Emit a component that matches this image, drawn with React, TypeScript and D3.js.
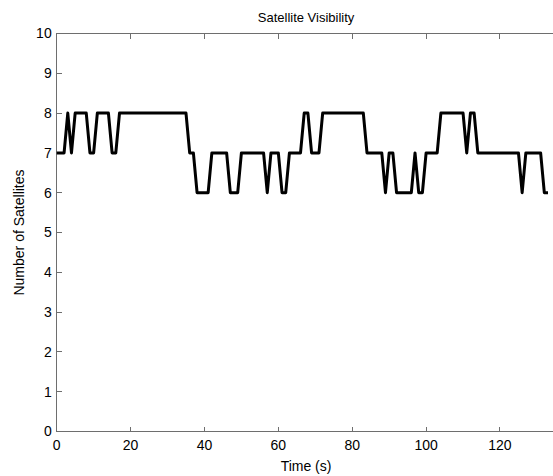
import React from "react";
import * as d3 from "d3";

// Number of visible satellites sampled once per second (t = 0 .. 133 s)
const satellites: number[] = [
  7, 7, 7, 8, 7, 8, 8, 8, 8, 7, 7, 8, 8, 8, 8, 7, 7,
  8, 8, 8, 8, 8, 8, 8, 8, 8, 8, 8, 8, 8, 8, 8, 8, 8, 8, 8,
  7, 7, 6, 6, 6, 6, 7, 7, 7, 7, 7, 6, 6, 6,
  7, 7, 7, 7, 7, 7, 7, 6, 7, 7, 7, 6, 6, 7, 7, 7, 7, 8, 8, 7, 7, 7,
  8, 8, 8, 8, 8, 8, 8, 8, 8, 8, 8, 8,
  7, 7, 7, 7, 7, 6, 7, 7, 6, 6, 6, 6, 6, 7, 6, 6, 7, 7, 7, 7,
  8, 8, 8, 8, 8, 8, 8, 7, 8, 8,
  7, 7, 7, 7, 7, 7, 7, 7, 7, 7, 7, 7, 6, 7, 7, 7, 7, 7, 6, 6,
];
const xTicks: number[] = [0, 20, 40, 60, 80, 100, 120];
const yTicks: number[] = [0, 1, 2, 3, 4, 5, 6, 7, 8, 9, 10];
const xDomain: [number, number] = [0, 135];
const yDomain: [number, number] = [0, 10];

const W = 553;
const H = 476;
const left = 56.7;
const right = 555.4;
const top = 33.5;
const bottom = 431.5;
const font = "Liberation Sans, Arial, Helvetica, sans-serif";
const axisColor = "#6e6e6e";

export default function App() {
  const x = d3.scaleLinear().domain(xDomain).range([left, right]);
  const y = d3.scaleLinear().domain(yDomain).range([bottom, top]);
  const line = d3
    .line<number>()
    .x((_, i) => x(i))
    .y((d) => y(d));
  const tickLen = 5;

  return (
    <svg
      width={W}
      height={H}
      style={{ position: "absolute", left: 0, top: 0, background: "#fff" }}
      fontFamily={font}
    >
      <rect x={0} y={0} width={W} height={H} fill="#fff" />
      {/* plot frame */}
      <rect
        x={left}
        y={top}
        width={right - left}
        height={bottom - top}
        fill="#fff"
        stroke={axisColor}
        strokeWidth={1}
        shapeRendering="crispEdges"
      />
      {/* x ticks bottom & top */}
      {xTicks.map((t) => (
        <g key={"x" + t}>
          <line
            x1={x(t)}
            x2={x(t)}
            y1={bottom}
            y2={bottom - tickLen}
            stroke={axisColor}
            shapeRendering="crispEdges"
          />
          <line
            x1={x(t)}
            x2={x(t)}
            y1={top}
            y2={top + tickLen}
            stroke={axisColor}
            shapeRendering="crispEdges"
          />
          <text
            x={x(t)}
            y={bottom + 18.5}
            textAnchor="middle"
            fontSize={14}
            fill="#000"
          >
            {t}
          </text>
        </g>
      ))}
      {/* y ticks */}
      {yTicks.map((t) => (
        <g key={"y" + t}>
          <line
            x1={left}
            x2={left + tickLen}
            y1={y(t)}
            y2={y(t)}
            stroke={axisColor}
            shapeRendering="crispEdges"
          />
          <text
            x={left - 5}
            y={y(t)}
            dy="0.35em"
            textAnchor="end"
            fontSize={14}
            fill="#000"
          >
            {t}
          </text>
        </g>
      ))}
      {/* data line */}
      <path
        d={line(satellites) || ""}
        fill="none"
        stroke="#000"
        strokeWidth={3}
        strokeLinejoin="round"
      />
      {/* title & labels */}
      <text
        x={(left + right) / 2}
        y={22}
        textAnchor="middle"
        fontSize={13}
        fill="#000"
      >
        Satellite Visibility
      </text>
      <text
        x={(left + right) / 2}
        y={471}
        textAnchor="middle"
        fontSize={14}
        fill="#000"
      >
        Time (s)
      </text>
      <text
        transform={`translate(24, ${(top + bottom) / 2}) rotate(-90)`}
        textAnchor="middle"
        fontSize={14}
        fill="#000"
      >
        Number of Satellites
      </text>
    </svg>
  );
}
